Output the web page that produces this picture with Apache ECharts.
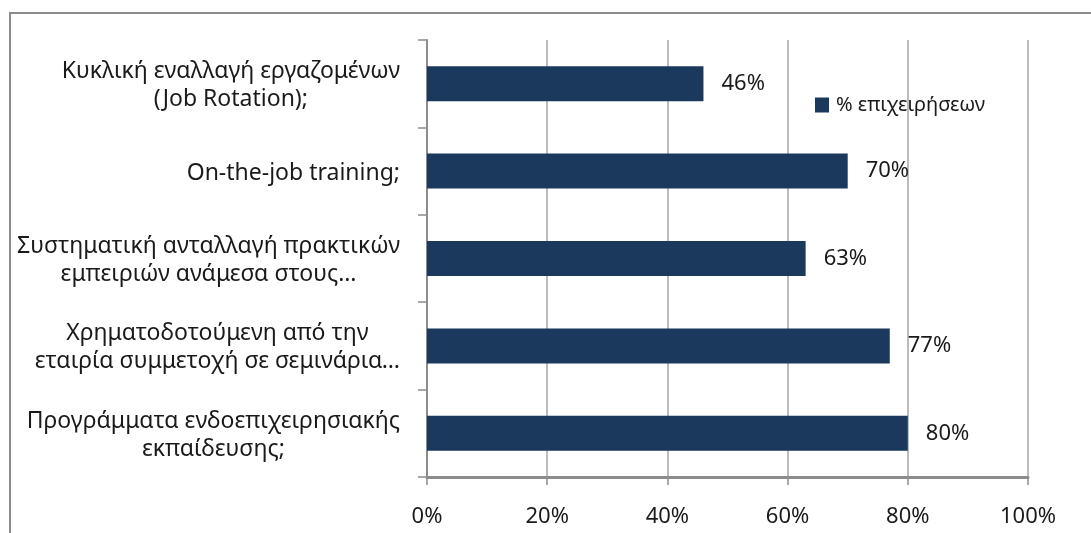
<!DOCTYPE html>
<html>
<head>
<meta charset="utf-8">
<script src="https://cdn.jsdelivr.net/npm/echarts@6/dist/echarts.min.js"></script>
<style>
  html, body { margin: 0; padding: 0; background: #ffffff; }
  #chart { width: 1091px; height: 533px; }
</style>
</head>
<body>
<div id="chart"></div>
<script>
// Training practices, share of companies (%)
const categories = [
  'Κυκλική εναλλαγή εργαζομένων\n(Job Rotation);',
  'On-the-job training;',
  'Συστηματική ανταλλαγή πρακτικών\nεμπειριών ανάμεσα στους…',
  'Χρηματοδοτούμενη από την\nεταιρία συμμετοχή σε σεμινάρια…',
  'Προγράμματα ενδοεπιχειρησιακής\nεκπαίδευσης;'
];
const values = [46, 70, 63, 77, 80];
const seriesName = '% επιχειρήσεων';
const xTicks = [0, 20, 40, 60, 80, 100];

const FONT = '"Noto Sans", "Open Sans", sans-serif';
const TEXT = '#1a1a1a';
const GRID = '#a6a6a6';
const AXIS = '#8c8c8c';

const chart = echarts.init(document.getElementById('chart'), null, { renderer: 'canvas' });

chart.setOption({
  backgroundColor: '#ffffff',
  animation: false,
  textStyle: { fontFamily: FONT },
  graphic: [{
    type: 'rect',
    z: -10,
    shape: { x: 10, y: 13, width: 1200, height: 700 },
    style: { fill: 'none', stroke: '#8c8c8c', lineWidth: 2 }
  }],
  legend: {
    left: 810,
    top: 90,
    itemWidth: 14,
    itemHeight: 15,
    icon: 'rect',
    data: [seriesName],
    textStyle: { fontFamily: FONT, fontSize: 20, color: TEXT, padding: [0, 0, 0, 2] }
  },
  grid: { left: 427, right: 63, top: 40, bottom: 56, containLabel: false },
  xAxis: {
    type: 'value',
    min: 0,
    max: 100,
    interval: 20,
    axisLine: { show: true, lineStyle: { color: AXIS, width: 3 } },
    axisTick: { show: true, length: 8, lineStyle: { color: AXIS, width: 1.5 } },
    splitLine: { show: true, lineStyle: { color: GRID, width: 1.5 } },
    axisLabel: {
      margin: 29,
      fontFamily: FONT,
      fontSize: 22,
      color: TEXT,
      formatter: v => (xTicks.indexOf(v) >= 0 ? v + '%' : '')
    }
  },
  yAxis: {
    type: 'category',
    inverse: true,
    data: categories,
    axisLine: { show: true, lineStyle: { color: AXIS, width: 2 } },
    axisTick: { show: true, length: 9, lineStyle: { color: AXIS, width: 1.5 } },
    axisLabel: {
      margin: 27,
      align: 'right',
      fontFamily: FONT,
      fontSize: 23,
      color: TEXT,
      formatter: v => v.split('\n').map(s => '{c|' + s + '}').join('\n'),
      rich: {
        c: { align: 'center', fontFamily: FONT, fontSize: 23, lineHeight: 28, color: TEXT, padding: [4, 0, 0, 0] }
      }
    }
  },
  series: [{
    name: seriesName,
    type: 'bar',
    data: values,
    barWidth: 35,
    itemStyle: { color: '#1b385d' },
    label: {
      show: true,
      position: 'right',
      distance: 18,
      fontFamily: FONT,
      fontSize: 22,
      color: TEXT,
      formatter: p => p.value + '%'
    }
  }]
});
</script>
</body>
</html>
